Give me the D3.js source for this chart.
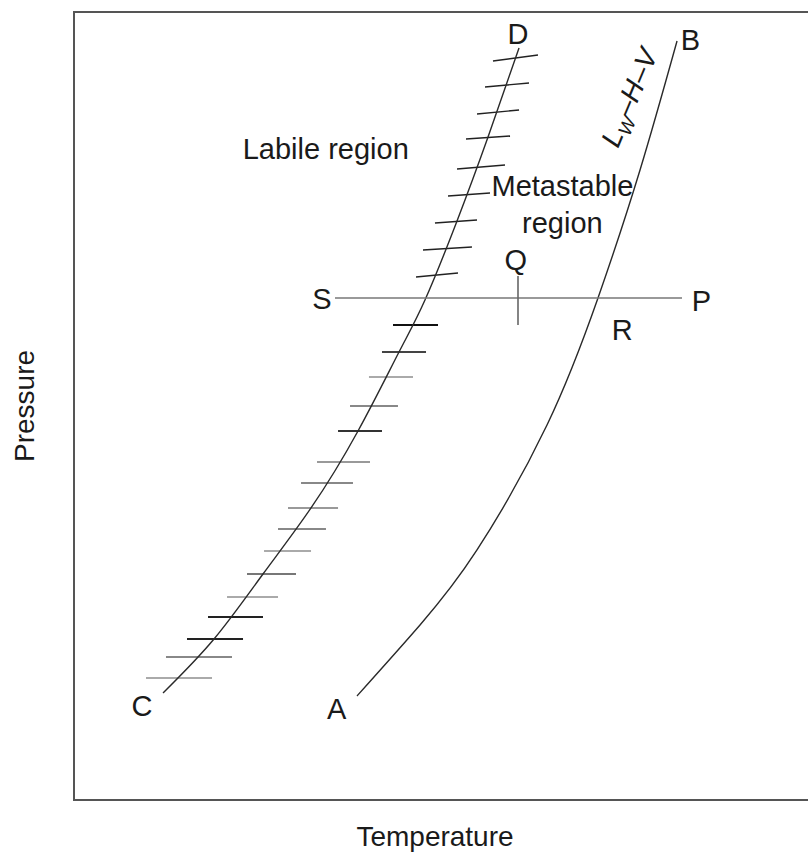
<!DOCTYPE html>
<html>
<head>
<meta charset="utf-8">
<script src="https://cdn.jsdelivr.net/npm/d3@7"></script>
<style>
  html, body { margin: 0; padding: 0; background: #fff; }
  svg { display: block; }
  text { font-family: "Liberation Sans", Arial, Helvetica, sans-serif; fill: #1a1a1a; }
</style>
</head>
<body>
<svg id="chart" width="808" height="853"></svg>
<script>
// Phase diagram: pressure vs temperature (arbitrary units, 0–100 on each axis)

// L_W–H–V equilibrium curve, A (bottom) to B (top): [temperature, pressure]
const equilibriumCurve = [
  [38.24, 13.2], [46.76, 22.21], [54.46, 31.73], [63.92, 47.59],
  [70.81, 63.71], [76.49, 79.95], [81.49, 96.32]
];

// Labile limit, C (bottom) to D (top)
const labileCurve = [
  [12.03, 13.58], [18.92, 20.43], [25.54, 28.68], [32.03, 37.06], [38.38, 46.83],
  [43.92, 56.85], [47.43, 63.45], [51.76, 73.48], [55.95, 84.14], [60.14, 95.43]
];

// Hatch marks across the labile limit: [tLeft, pLeft, tRight, pRight]
const hatchMarks = [
  [56.62, 93.78, 62.70, 94.54],
  [55.54, 90.48, 61.49, 90.99],
  [54.46, 87.06, 60.14, 87.56],
  [52.97, 83.88, 58.92, 84.26],
  [51.76, 80.08, 58.24, 80.58],
  [50.54, 76.65, 56.22, 77.03],
  [48.78, 73.22, 54.46, 73.60],
  [47.16, 69.80, 53.78, 70.18],
  [46.22, 66.37, 51.89, 66.88],
  [43.11, 60.28, 49.19, 60.28],
  [41.62, 56.85, 47.57, 56.85],
  [39.86, 53.68, 45.81, 53.68],
  [37.30, 50.00, 43.78, 50.00],
  [35.68, 46.83, 41.62, 46.83],
  [32.84, 42.89, 40.00, 42.89],
  [30.68, 40.23, 37.70, 40.23],
  [28.92, 37.06, 35.68, 37.06],
  [27.57, 34.39, 34.05, 34.39],
  [25.68, 31.60, 32.03, 31.60],
  [23.38, 28.68, 30.00, 28.68],
  [20.68, 25.76, 27.57, 25.76],
  [18.11, 23.22, 25.54, 23.22],
  [15.27, 20.43, 22.84, 20.43],
  [12.43, 18.15, 21.35, 18.15],
  [9.73, 15.48, 18.65, 15.48]
];

// Isobaric path S–P and the mark Q on it
const isobarPressure = [63.71];
const isobarSpan = [35.27, 82.16];     // temperature at S end, P end
const markQ = [60.0, 60.28, 66.5];     // temperature, pressure low, pressure high

// Text annotations: [text, temperature, pressure, anchor]
const pointLabels = [
  ["D", 60.0, 96.0, "middle"],
  ["B", 83.3, 95.2, "middle"],
  ["S", 33.5, 62.3, "middle"],
  ["P", 84.8, 62.1, "middle"],
  ["Q", 59.7, 67.3, "middle"],
  ["R", 74.1, 58.4, "middle"],
  ["C", 9.2, 10.6, "middle"],
  ["A", 35.5, 10.3, "middle"]
];
const regionLabels = [
  ["Labile region", 22.8, 81.3, "start"],
  ["Metastable", 66.0, 76.6, "middle"],
  ["region", 66.0, 72.0, "middle"]
];
const axisTitles = ["Temperature", "Pressure"];

// Stroke tones for individual hatch marks
const hatchTones = [
  "#222", "#222", "#222", "#222", "#222", "#222", "#222", "#222", "#222",
  "#111", "#444", "#aaa", "#888", "#333", "#999", "#888", "#999", "#888",
  "#aaa", "#777", "#aaa", "#222", "#222", "#888", "#aaa"
];

const svg = d3.select("#chart");
const frame = { left: 74, right: 814, top: 12, bottom: 800 };

const x = d3.scaleLinear().domain([0, 100]).range([frame.left, frame.right]);
const y = d3.scaleLinear().domain([0, 100]).range([frame.bottom, frame.top]);

// Plot frame (right side runs past the page edge)
svg.append("rect")
  .attr("x", frame.left).attr("y", frame.top)
  .attr("width", frame.right - frame.left).attr("height", frame.bottom - frame.top)
  .attr("fill", "none").attr("stroke", "#555").attr("stroke-width", 2);

const line = d3.line()
  .x(d => x(d[0])).y(d => y(d[1]))
  .curve(d3.curveNatural);

// Hatch marks
svg.append("g").selectAll("line")
  .data(hatchMarks)
  .join("line")
  .attr("x1", d => x(d[0])).attr("y1", d => y(d[1]))
  .attr("x2", d => x(d[2])).attr("y2", d => y(d[3]))
  .attr("stroke", (d, i) => hatchTones[i])
  .attr("stroke-width", (d, i) => i < 9 ? 1.4 : 2);

// Curves
svg.append("path").datum(labileCurve)
  .attr("d", line).attr("fill", "none")
  .attr("stroke", "#2a2a2a").attr("stroke-width", 1.4);

svg.append("path").datum(equilibriumCurve)
  .attr("d", line).attr("fill", "none")
  .attr("stroke", "#2a2a2a").attr("stroke-width", 1.4);

// Isobar S–P
svg.append("line")
  .attr("x1", x(isobarSpan[0])).attr("x2", x(isobarSpan[1]))
  .attr("y1", y(isobarPressure[0])).attr("y2", y(isobarPressure[0]))
  .attr("stroke", "#777").attr("stroke-width", 1.6);

svg.append("line")
  .attr("x1", x(markQ[0])).attr("x2", x(markQ[0]))
  .attr("y1", y(markQ[1])).attr("y2", y(markQ[2]))
  .attr("stroke", "#666").attr("stroke-width", 1.6);

// Point and region labels
svg.append("g").selectAll("text")
  .data(pointLabels.concat(regionLabels))
  .join("text")
  .attr("x", d => x(d[1])).attr("y", d => y(d[2]))
  .attr("text-anchor", d => d[3])
  .attr("font-size", 29)
  .text(d => d[0]);

// Curve name along the equilibrium line
const curveLabel = svg.append("text")
  .attr("transform", `translate(${x(73.5)},${y(82.6)}) rotate(-67)`)
  .attr("font-size", 28)
  .attr("font-style", "italic");
curveLabel.append("tspan").text("L");
curveLabel.append("tspan").attr("font-size", 19).attr("dy", 6).text("W");
curveLabel.append("tspan").attr("dy", -6).text("–H–V");

// Axis titles
svg.append("text")
  .attr("x", (frame.left + 796) / 2).attr("y", 846)
  .attr("text-anchor", "middle").attr("font-size", 28)
  .text(axisTitles[0]);

svg.append("text")
  .attr("transform", `translate(34,${(frame.top + frame.bottom) / 2}) rotate(-90)`)
  .attr("text-anchor", "middle").attr("font-size", 28)
  .text(axisTitles[1]);
</script>
</body>
</html>
